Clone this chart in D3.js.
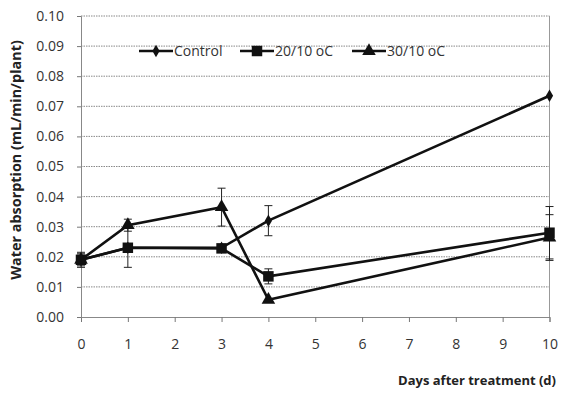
<!DOCTYPE html>
<html><head><meta charset="utf-8">
<script src="https://cdn.jsdelivr.net/npm/d3@7"></script>
<style>body{margin:0;background:#fff}svg{display:block}</style>
</head><body>
<script>
const xTicks = [0,1,2,3,4,5,6,7,8,9,10];
const yTicks = [0,0.01,0.02,0.03,0.04,0.05,0.06,0.07,0.08,0.09,0.10];
const seriesNames = ["Control","20/10 oC","30/10 oC"];
const controlDays = [0,1,3,4,10];
const controlVals = [0.019,0.023,0.023,0.032,0.0735];
const controlErr  = [0.002,0,0,0.005,0];
const s20Days = [0,1,3,4,10];
const s20Vals = [0.019,0.023,0.0228,0.0135,0.028];
const s20Err  = [0.0025,0.0065,0.0012,0.0025,0.0087];
const s30Days = [0,1,3,4,10];
const s30Vals = [0.019,0.0305,0.0365,0.0057,0.0264];
const s30Err  = [0.0015,0.002,0.0063,0,0.0076];

const W=563,H=394;
const svg=d3.select("body").append("svg").attr("width",W).attr("height",H);
const x=d3.scaleLinear().domain([0,10]).range([81,549.5]);
const y=d3.scaleLinear().domain([0,0.10]).range([317,16]);
const font="'Open Sans', 'Noto Sans', sans-serif";

// gridlines
svg.append("g").selectAll("line").data(yTicks.slice(1)).join("line")
  .attr("x1",x(0)).attr("x2",x(10)).attr("y1",d=>y(d)).attr("y2",d=>y(d))
  .attr("stroke","#888").attr("stroke-width",1).attr("stroke-dasharray","1.5,1");
// right border
svg.append("line").attr("x1",x(10)).attr("x2",x(10)).attr("y1",y(0.10)).attr("y2",y(0))
  .attr("stroke","#999").attr("stroke-width",1);

const xAxis=svg.append("g").attr("transform",`translate(0,${y(0)})`)
  .call(d3.axisBottom(x).tickValues(xTicks).tickFormat(d3.format("d")).tickSize(5).tickPadding(17));
const yAxis=svg.append("g").attr("transform",`translate(${x(0)},0)`)
  .call(d3.axisLeft(y).tickValues(yTicks).tickFormat(d3.format(".2f")).tickSize(4).tickPadding(13));
[xAxis,yAxis].forEach(a=>{
  a.select(".domain").attr("stroke","#888");
  a.selectAll(".tick line").attr("stroke","#777");
  a.selectAll("text").attr("font-family",font).attr("font-size",14).attr("fill","#333");
});

const series=[
  {days:controlDays,vals:controlVals,err:controlErr,shape:d3.symbolDiamond,size:45},
  {days:s20Days,vals:s20Vals,err:s20Err,shape:d3.symbolSquare,size:110},
  {days:s30Days,vals:s30Vals,err:s30Err,shape:d3.symbolTriangle,size:80}
];
const line=d3.line().x(d=>x(d[0])).y(d=>y(d[1]));
// error bars
series.forEach(s=>{
  const g=svg.append("g").attr("stroke","#222").attr("stroke-width",1);
  s.days.forEach((dd,i)=>{
    const e=s.err[i]; if(!e) return;
    const cx=x(dd),t=y(s.vals[i]+e),b=y(s.vals[i]-e);
    g.append("line").attr("x1",cx).attr("x2",cx).attr("y1",t).attr("y2",b);
    g.append("line").attr("x1",cx-4).attr("x2",cx+4).attr("y1",t).attr("y2",t);
    g.append("line").attr("x1",cx-4).attr("x2",cx+4).attr("y1",b).attr("y2",b);
  });
});
// lines and markers
series.forEach(s=>{
  const pts=s.days.map((d,i)=>[d,s.vals[i]]);
  svg.append("path").attr("d",line(pts)).attr("fill","none").attr("stroke","#111").attr("stroke-width",2.6);
});
series.forEach(s=>{
  const pts=s.days.map((d,i)=>[d,s.vals[i]]);
  svg.append("g").selectAll("path").data(pts).join("path")
    .attr("d",d3.symbol().type(s.shape).size(s.size))
    .attr("transform",d=>`translate(${x(d[0])},${y(d[1])})`).attr("fill","#111");
});

// legend
const legX=[139,240,352];
series.forEach((s,i)=>{
  const lx=legX[i], ly=51;
  svg.append("line").attr("x1",lx).attr("x2",lx+34).attr("y1",ly).attr("y2",ly).attr("stroke","#111").attr("stroke-width",2.6);
  svg.append("path").attr("d",d3.symbol().type(s.shape).size(s.size)).attr("transform",`translate(${lx+17},${ly})`).attr("fill","#111");
  svg.append("text").attr("x",lx+35).attr("y",ly+5).text(seriesNames[i])
    .attr("font-family",font).attr("font-size",14).attr("fill","#333");
});

// axis titles
svg.append("text").attr("transform",`translate(21,160) rotate(-90)`).attr("text-anchor","middle")
  .text("Water absorption (mL/min/plant)").attr("font-family",font).attr("font-weight","bold").attr("font-size",14.4).attr("fill","#222");
svg.append("text").attr("x",556).attr("y",385).attr("text-anchor","end")
  .text("Days after treatment (d)").attr("font-family",font).attr("font-weight","bold").attr("font-size",13).attr("fill","#222");
</script>
</body></html>
